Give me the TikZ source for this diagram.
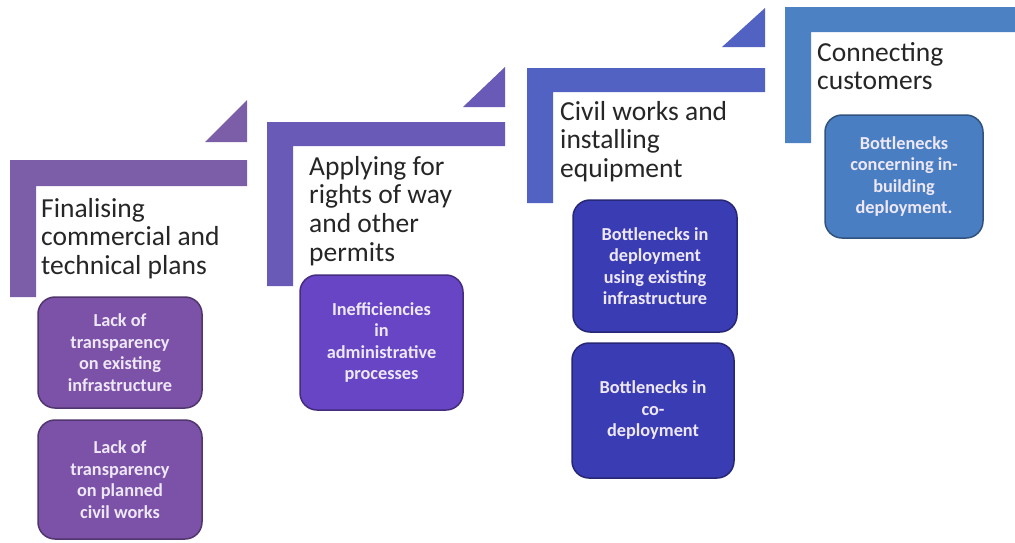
\documentclass[tikz,border=0pt]{standalone}
\usepackage{fontspec}
\setmainfont{Carlito}
\definecolor{barA}{HTML}{7B5EA7}
\definecolor{barB}{HTML}{6A5AB8}
\definecolor{barC}{HTML}{5262C2}
\definecolor{barD}{HTML}{4C82C4}
\definecolor{boxA}{HTML}{7C52A8}
\definecolor{boxB}{HTML}{6845C4}
\definecolor{boxC}{HTML}{3A3CB4}
\definecolor{boxD}{HTML}{4A7EC2}
\definecolor{titletext}{HTML}{262626}
\definecolor{boxtext}{HTML}{EEE8F6}
\begin{document}
\begin{tikzpicture}[x=1pt,y=-1pt,
  steptitle/.style={anchor=base west,inner sep=0pt,text=titletext,
    font=\fontsize{27.5}{28.7}\selectfont},
  issuebox/.style={rounded corners=17pt,line width=1.5pt,draw=#1!65!black,fill=#1,
    text=boxtext,align=center,inner sep=0pt,
    font=\bfseries\fontsize{18.3}{21.5}\selectfont}]
\useasboundingbox (0,0) rectangle (1015,542);
% step 1
\fill[barA] (10,160) -- (247,160) -- (247,186) -- (36,186) -- (36,297) -- (10,297) -- cycle;
\fill[barA] (205,142) -- (247,142) -- (247,100) -- cycle;
\node[steptitle] (t1) at (41,217) {\begin{tabular}[t]{@{}l@{}}Finalising\\commercial and\\technical plans\end{tabular}};
% step 2
\fill[barB] (267,122) -- (505,122) -- (505,146) -- (293,146) -- (293,286) -- (267,286) -- cycle;
\fill[barB] (463,107) -- (505,107) -- (505,67) -- cycle;
\node[steptitle] (t2) at (309,175) {\begin{tabular}[t]{@{}l@{}}Applying for\\rights of way\\and other\\permits\end{tabular}};
% step 3
\fill[barC] (527,68) -- (765,68) -- (765,92) -- (553,92) -- (553,203) -- (527,203) -- cycle;
\fill[barC] (722,47) -- (765,47) -- (765,8) -- cycle;
\node[steptitle] (t3) at (560,120) {\begin{tabular}[t]{@{}l@{}}Civil works and\\installing\\equipment\end{tabular}};
% step 4
\fill[barD] (785,7) -- (1015,7) -- (1015,32) -- (811,32) -- (811,143) -- (785,143) -- cycle;
\node[steptitle] (t4) at (817,61) {\begin{tabular}[t]{@{}l@{}}Connecting\\customers\end{tabular}};
% issue boxes
\node[issuebox=boxA,minimum width=164pt,minimum height=111pt] (b1a) at (120,352.5)
  {Lack of\\transparency\\on existing\\infrastructure};
\node[issuebox=boxA,minimum width=164pt,minimum height=119pt] (b1b) at (120,479.5)
  {Lack of\\transparency\\on planned\\civil works};
\node[issuebox=boxB,minimum width=163pt,minimum height=135pt] (b2) at (381.5,342.5)
  {Inefficiencies\\in\\administrative\\processes};
\node[issuebox=boxC,minimum width=164pt,minimum height=132pt] (b3a) at (655,266)
  {Bottlenecks in\\deployment\\using existing\\infrastructure};
\node[issuebox=boxC,minimum width=162pt,minimum height=135pt] (b3b) at (653,410.5)
  {Bottlenecks in\\co-\\deployment};
\node[issuebox=boxD,minimum width=158pt,minimum height=123pt] (b4) at (904,176.5)
  {Bottlenecks\\concerning in-\\building\\deployment.};
\end{tikzpicture}
\end{document}
